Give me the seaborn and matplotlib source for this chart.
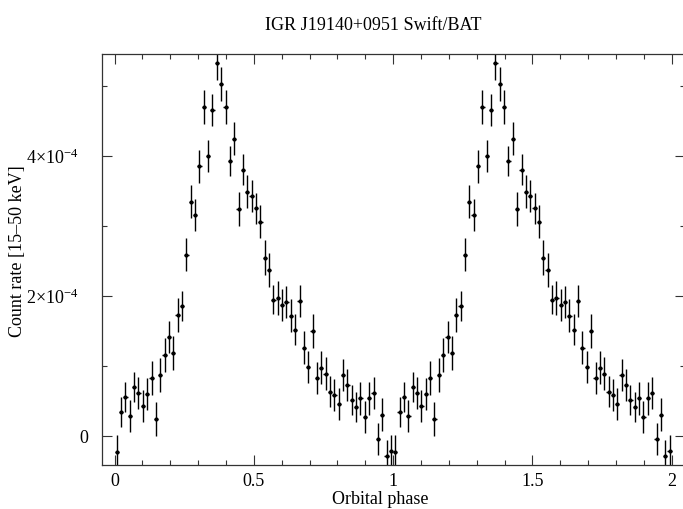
import numpy as np
import pandas as pd
import matplotlib
matplotlib.use("Agg")
import matplotlib.pyplot as plt
from matplotlib.ticker import MultipleLocator
import matplotlib.transforms as mtransforms
import seaborn as sns

# Folded Swift/BAT light curve, 64 phase bins (count rate in units of 1e-4)
rate = [-0.229, 0.334, 0.549, 0.286, 0.691, 0.606, 0.420, 0.596,
        0.820, 0.239, 0.871, 1.157, 1.406, 1.181, 1.724, 1.849,
        2.586, 3.343, 3.153, 3.849, 4.691, 3.991, 4.653, 5.320,
        5.024, 4.691, 3.920, 4.239, 3.239, 3.796, 3.486, 3.420,
        3.249, 3.057, 2.543, 2.371, 1.939, 1.963, 1.867, 1.906,
        1.714, 1.514, 1.924, 1.257, 0.981, 1.496, 0.820, 0.971,
        0.886, 0.629, 0.581, 0.453, 0.867, 0.724, 0.506, 0.410,
        0.534, 0.267, 0.534, 0.610, -0.047, 0.300, -0.286, -0.223]
rate_err = [0.239, 0.214, 0.214, 0.229, 0.214, 0.229, 0.229, 0.229,
            0.243, 0.243, 0.243, 0.243, 0.229, 0.243, 0.243, 0.214,
            0.236, 0.229, 0.229, 0.236, 0.243, 0.229, 0.229, 0.243,
            0.239, 0.239, 0.214, 0.233, 0.243, 0.219, 0.233, 0.229,
            0.221, 0.239, 0.250, 0.243, 0.207, 0.239, 0.233, 0.233,
            0.233, 0.226, 0.231, 0.240, 0.226, 0.240, 0.229, 0.233,
            0.231, 0.221, 0.233, 0.233, 0.229, 0.229, 0.214, 0.219,
            0.233, 0.226, 0.233, 0.231, 0.229, 0.231, 0.229, 0.229]
ytick_values = [0, 2e-4, 4e-4]
ytick_labels = ["0", r"$2{\times}10^{-4}$", r"$4{\times}10^{-4}$"]
xtick_values = [0, 0.5, 1, 1.5, 2]
xtick_labels = ["0", "0.5", "1", "1.5", "2"]
n_bins = 64
scale = 1e-4

phase_one = (np.arange(n_bins) + 0.5) / n_bins
df = pd.DataFrame({
    "phase": np.concatenate([phase_one, phase_one + 1.0]),
    "rate": np.array(rate * 2) * scale,
    "err": np.array(rate_err * 2) * scale,
})

sns.set_theme(style="ticks")
plt.rcParams["font.family"] = ["Liberation Serif", "DejaVu Serif"]
plt.rcParams["mathtext.fontset"] = "custom"
plt.rcParams["mathtext.rm"] = "Liberation Serif"
plt.rcParams["mathtext.it"] = "Liberation Serif:italic"
plt.rcParams["text.color"] = "black"
plt.rcParams["xtick.labelcolor"] = "black"
plt.rcParams["ytick.labelcolor"] = "black"

fs = 13
dpi = 100
px_per_phase = 278.6
ax_width_px = 582.5

fig = plt.figure(figsize=(6.83, 5.10), dpi=dpi)
# right edge of the frame sits just past the figure edge; only its ticks show
ax = fig.add_axes([102 / 683, 44 / 510, ax_width_px / 683, 411 / 510])

ax.errorbar(df["phase"], df["rate"], yerr=df["err"], xerr=0.5 / n_bins,
            fmt="none", ecolor="black", elinewidth=1.0, capsize=0, zorder=2)
sns.scatterplot(data=df, x="phase", y="rate", ax=ax, color="black",
                marker="o", s=9, linewidth=0, zorder=3, legend=False)

ax.set_xlim(-0.045, -0.045 + ax_width_px / px_per_phase)
ax.set_ylim(-0.42e-4, 5.45e-4)

ax.set_xticks(xtick_values)
ax.set_xticklabels(xtick_labels)
ax.xaxis.set_minor_locator(MultipleLocator(0.1))
ax.set_yticks(ytick_values)
ax.set_yticklabels(ytick_labels)
ax.yaxis.set_minor_locator(MultipleLocator(1e-4))

ax.tick_params(which="both", direction="in", top=True, right=True,
               color="#333333", width=0.8, labelsize=fs)
ax.tick_params(axis="x", which="major", pad=5)
ax.tick_params(axis="y", which="major", pad=17)
ax.tick_params(which="major", length=7)
ax.tick_params(which="minor", length=3.5)
for sp in ax.spines.values():
    sp.set_color("#333333")
    sp.set_linewidth(0.9)

# the plain zero sits closer to the axis than the exponent labels
zero_label = ax.get_yticklabels()[0]
zero_label.set_transform(zero_label.get_transform() +
                         mtransforms.ScaledTranslation(10 / dpi, 0, fig.dpi_scale_trans))

ax.set_xlabel("")
ax.set_ylabel("")
fig.text(380 / 683, 1 - 500 / 510, "Orbital phase", ha="center", va="center",
         fontsize=fs)
fig.text(18 / 683, 1 - 251 / 510, "Count rate [15\u201350 keV]", ha="center",
         va="center", rotation=90, fontsize=fs)
fig.text(373 / 683, 1 - 25 / 510, "IGR J19140+0951 Swift/BAT", ha="center",
         va="center", fontsize=fs)

fig.savefig("out.png", dpi=dpi)
